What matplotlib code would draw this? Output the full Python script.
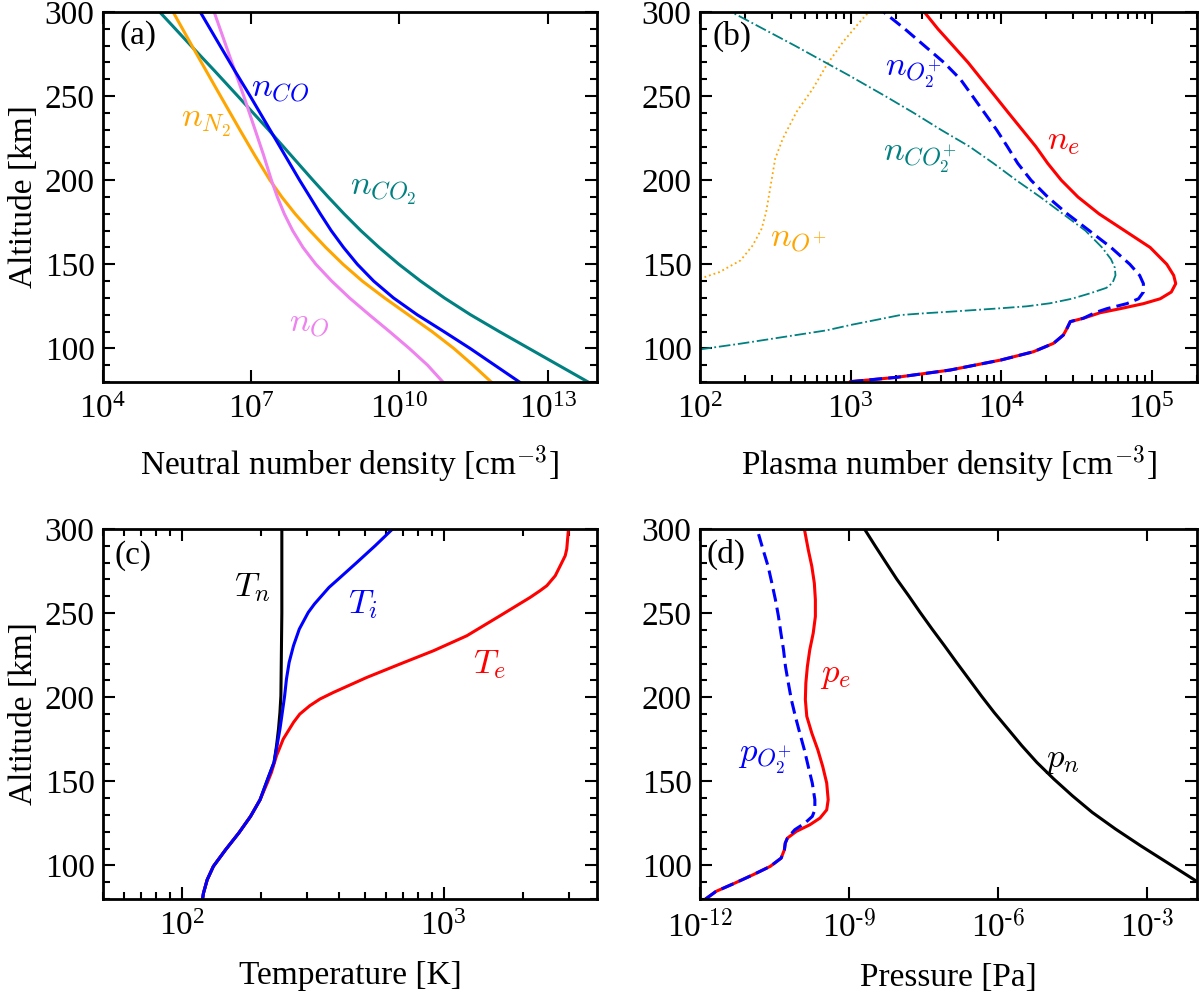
import matplotlib
matplotlib.use("Agg")
import matplotlib.pyplot as plt
import numpy as np
from matplotlib.ticker import MultipleLocator, NullLocator, FuncFormatter

plt.rcParams['font.family'] = 'serif'
plt.rcParams['font.serif'] = ['Liberation Serif', 'DejaVu Serif']
plt.rcParams['mathtext.fontset'] = 'cm'
plt.rcParams['axes.unicode_minus'] = False
plt.rcParams['font.size'] = 24

# ---------------- (a) neutral densities [cm^-3] ----------------
alt_a = [80, 90, 100, 110, 120, 130, 140, 150, 160, 170, 180, 190, 200, 215, 230, 250, 265, 280, 300]
n_co2 = [6.61e13, 1.66e13, 4.17e12, 1.05e12, 2.75e11, 8.13e10, 2.69e10, 9.77e9, 3.89e9, 1.66e9, 7.59e8, 3.63e8, 1.78e8,
         6.31e7, 2.24e7, 5.37e6, 1.82e6, 6.03e5, 1.41e5]
n_co = [2.69e12, 8.51e11, 2.69e11, 7.94e10, 2.29e10, 7.59e9, 3.02e9, 1.41e9, 7.41e8, 4.17e8, 2.51e8, 1.55e8, 9.55e7,
        4.79e7, 2.4e7, 9.55e6, 4.68e6, 2.34e6, 9.33e5]
n_n2 = [7.24e11, 3.09e11, 1.26e11, 4.57e10, 1.51e10, 5.01e9, 1.78e9, 7.24e8, 3.24e8, 1.55e8, 7.76e7, 4.17e7, 2.4e7,
        1.17e7, 5.89e6, 2.4e6, 1.23e6, 6.31e5, 2.63e5]
n_o = [7.59e10, 3.72e10, 1.58e10, 6.31e9, 2.45e9, 9.77e8, 4.27e8, 2.04e8, 1.12e8, 6.92e7, 4.68e7, 3.39e7, 2.57e7,
       1.78e7, 1.2e7, 7.08e6, 4.68e6, 3.09e6, 1.78e6]

# ---------------- (b) plasma densities [cm^-3] ----------------
alt_e = [80.2, 82.8, 87.1, 93.1, 98.0, 103.0, 107.9, 111.9, 115.9, 117.9, 121.2, 123.6, 126.6, 129.5, 133.5, 138.5,
         143.4, 150, 160, 170, 180, 190, 200, 210, 220, 230, 240, 250, 260, 270, 280, 290, 300]
n_e = [1.0e3, 2.03e3, 4.58e3, 1.0e4, 1.64e4, 2.23e4, 2.59e4, 2.74e4, 2.88e4, 3.52e4, 4.55e4, 6.18e4, 8.83e4, 1.14e5,
       1.35e5, 1.445e5, 1.40e5, 1.26e5, 9.77e4, 6.61e4, 4.47e4, 3.24e4, 2.51e4, 2.04e4, 1.7e4, 1.38e4, 1.12e4, 9.12e3,
       7.41e3, 6.03e3, 4.79e3, 3.8e3, 3.09e3]
alt_o2p = [80.2, 82.8, 87.1, 93.1, 98.0, 103.0, 107.9, 111.9, 115.9, 117.9, 121.2, 123.6, 126.6, 129.5, 133.5, 138.5,
           143.4, 150, 160, 170, 180, 190, 200, 210, 220, 230, 240, 250, 260, 270, 280, 290, 300]
n_o2p = [1.0e3, 2.03e3, 4.58e3, 1.0e4, 1.64e4, 2.23e4, 2.59e4, 2.74e4, 2.88e4, 3.52e4, 4.2e4, 5.04e4, 6.84e4, 8.18e4,
         8.81e4, 8.81e4, 8.32e4, 7.16e4, 5.37e4, 3.85e4, 2.75e4, 2.04e4, 1.58e4, 1.29e4, 1.1e4, 9.33e3, 7.76e3, 6.46e3,
         5.37e3, 4.17e3, 3.09e3, 2.29e3, 1.66e3]
alt_co2p = [99.4, 102.8, 106.7, 110.7, 113.9, 116.8, 119.8, 120.8, 121.8, 123.8, 125, 126.8, 129.5, 132.7, 136, 139,
            143.4, 148, 153, 160, 170, 180, 190, 200, 210, 220, 230, 240, 250, 262.3, 280, 300]
n_co2p = [100, 186, 355, 692, 1000, 1456, 2138, 3020, 4571, 9772, 1.48e4, 2.11e4, 2.95e4, 3.89e4, 5.01e4, 5.5e4,
          5.75e4, 5.69e4, 5.37e4, 4.68e4, 3.63e4, 2.57e4, 1.82e4, 1.26e4, 8.91e3, 6.17e3, 3.98e3, 2.63e3, 1.7e3, 977,
          427, 162]
alt_op = [141.4, 145.4, 152.3, 161.2, 171.2, 181, 197, 212.8, 224.7, 240.5, 254.4, 268.3, 282.2, 294, 300]
n_op = [100, 135, 186, 224, 257, 275, 295, 316, 355, 437, 562, 692, 891, 1150, 1320]

# ---------------- (c) temperatures [K] ----------------
alt_ti = [80, 83.5, 91.4, 99.4, 109.3, 119.2, 129.1, 139.0, 152.3, 161.2, 171.1, 181, 190.9, 200.8, 210.8, 220.7,
          230.6, 240.5, 250.4, 255.4, 260.3, 265.3, 270.2, 280.1, 290, 300]
T_i = [120, 121, 125, 132, 147, 165, 183, 199, 214, 225, 231, 237, 242, 247, 251, 257, 267, 281, 304, 321, 342, 365,
       396, 466, 547, 638]
alt_te = [80, 83.5, 91.4, 99.4, 109.3, 119.2, 129.1, 139.0, 149.0, 155.3, 165.2, 175.1, 185.0, 189.9, 194.9, 198.9,
          202.8, 211.7, 219.7, 227.6, 236.5, 248.4, 259.3, 263.3, 266.3, 272.2, 278.1, 284.1, 288.1, 300]
T_e = [120, 121, 125, 132, 147, 165, 183, 199, 212, 220, 230, 244, 267, 282, 308, 337, 379, 508, 681, 914, 1225, 1641,
       2138, 2333, 2477, 2667, 2786, 2911, 2951, 2996]
alt_tn = [80, 83.5, 91.4, 99.4, 109.3, 119.2, 129.1, 139.0, 152.3, 161.2, 171.1, 181, 190.9, 200.8, 250, 300]
T_n = [120, 121, 125, 132, 147, 165, 183, 199, 214, 225, 230, 234, 237, 239, 241, 241]

# ---------------- (d) pressures [Pa] ----------------
alt_pn = [90.8, 101.7, 111.6, 121.6, 131.5, 141.4, 151.3, 161.2, 171.1, 181, 190.9, 200.8, 210.8, 220.7, 230.6, 240.5,
          250.4, 260.3, 270.2, 280.1, 290, 300]
p_n = [9.5e-3, 2.5e-3, 7.4e-4, 2.29e-4, 7.8e-5, 3.1e-5, 1.32e-5, 6.0e-6, 3.0e-6, 1.58e-6, 8.3e-7, 4.57e-7, 2.57e-7,
       1.45e-7, 8.3e-8, 4.68e-8, 2.69e-8, 1.58e-8, 9.1e-9, 5.5e-9, 3.34e-9, 2.04e-9]
alt_pe = [80, 84.5, 89.4, 94.4, 99.4, 104.3, 109.3, 113.2, 116.2, 120.2, 124.1, 128.1, 133, 139, 148.9, 158.8, 168.7,
          178.6, 188.6, 198.5, 208.4, 218.3, 228.2, 238.1, 248, 257.9, 267.8, 277.8, 287.7, 300]
p_e = [1.3e-12, 2.1e-12, 5.0e-12, 1.17e-11, 2.6e-11, 4.3e-11, 5.0e-11, 5.2e-11, 5.75e-11, 8.7e-11, 1.62e-10, 2.6e-10,
       3.55e-10, 3.8e-10, 3.55e-10, 2.95e-10, 2.35e-10, 1.78e-10, 1.41e-10, 1.32e-10, 1.35e-10, 1.45e-10, 1.62e-10,
       1.9e-10, 2.1e-10, 2.1e-10, 2.0e-10, 1.78e-10, 1.51e-10, 1.26e-10]
alt_po2p = [80, 84.5, 89.4, 94.4, 99.4, 104.3, 109.3, 113.2, 116.2, 121.2, 125.1, 129.1, 133, 139, 148.9, 158.8, 168.7,
            178.6, 188.6, 198.5, 208.4, 218.3, 228.2, 238.1, 248, 257.9, 267.8, 277.8, 287.7, 300]
p_o2p = [1.3e-12, 2.1e-12, 5.0e-12, 1.17e-11, 2.6e-11, 4.3e-11, 5.0e-11, 5.2e-11, 5.75e-11, 8.1e-11, 1.29e-10, 1.82e-10,
         2.05e-10, 2.05e-10, 1.82e-10, 1.51e-10, 1.26e-10, 1.02e-10, 8.3e-11, 6.9e-11, 6.0e-11, 5.25e-11, 4.8e-11,
         4.25e-11, 3.8e-11, 3.3e-11, 2.8e-11, 2.35e-11, 1.86e-11, 1.41e-11]

lw = 2.2
dash = (0, (4.2, 2.0))
fig = plt.figure(figsize=(12, 9.94), dpi=100)
ax_a = fig.add_axes([0.0858, 0.6157, 0.4117, 0.3722])
ax_b = fig.add_axes([0.5833, 0.6157, 0.4142, 0.3722])
ax_c = fig.add_axes([0.0858, 0.0956, 0.4117, 0.3722])
ax_d = fig.add_axes([0.5833, 0.0956, 0.4142, 0.3722])


def log_label(x, pos):
    # tick labels in the text font, exponent with a plain hyphen
    e = int(round(np.log10(x)))
    if e < 0:
        return r'$\mathdefault{10^{\text{%d}}}$' % e
    return r'$\mathdefault{10^{%d}}$' % e


for ax in (ax_a, ax_b, ax_c, ax_d):
    ax.set_xscale('log')
    ax.set_ylim(80, 300)
    ax.yaxis.set_major_locator(MultipleLocator(50))
    ax.yaxis.set_minor_locator(MultipleLocator(10))
    ax.tick_params(which='both', direction='in', top=True, right=True, width=1.5)
    ax.tick_params(which='major', length=8.5, pad=6)
    ax.tick_params(which='minor', length=5)
    ax.tick_params(axis='x', which='major', pad=9)
    ax.xaxis.set_major_formatter(FuncFormatter(log_label))
    for s in ax.spines.values():
        s.set_linewidth(2.0)

kw = dict(ha='center', va='center', fontsize=25)

# (a)
ax_a.plot(n_co2, alt_a, color='teal', lw=lw)
ax_a.plot(n_n2, alt_a, color='orange', lw=lw)
ax_a.plot(n_o, alt_a, color='violet', lw=lw)
ax_a.plot(n_co, alt_a, color='blue', lw=lw)
ax_a.set_xlim(1e4, 1e14)
ax_a.set_xticks([1e4, 1e7, 1e10, 1e13])
ax_a.xaxis.set_minor_locator(NullLocator())
ax_a.set_xlabel(r'Neutral number density [cm$^{-3}$]', labelpad=13)
ax_a.set_ylabel('Altitude [km]', labelpad=4)
ax_a.text(0.07, 0.935, '(a)', transform=ax_a.transAxes, ha='center', va='center')
ax_a.text(3.8e7, 254.4, r'$n_{CO}$', color='blue', **kw)
ax_a.text(1.23e6, 234.6, r'$n_{N_2}$', color='orange', **kw)
ax_a.text(4.7e9, 194, r'$n_{CO_2}$', color='teal', **kw)
ax_a.text(1.5e8, 114.7, r'$n_{O}$', color='violet', **kw)

# (b)
ax_b.plot(n_op, alt_op, color='orange', lw=1.3, ls=':')
ax_b.plot(n_co2p, alt_co2p, color='teal', lw=1.3, ls='-.')
ax_b.plot(n_e, alt_e, color='red', lw=lw)
ax_b.plot(n_o2p, alt_o2p, color='blue', lw=lw, ls=dash)
ax_b.set_xlim(1e2, 2e5)
ax_b.set_xlabel(r'Plasma number density [cm$^{-3}$]', labelpad=13)
ax_b.text(0.064, 0.935, '(b)', transform=ax_b.transAxes, ha='center', va='center')
ax_b.text(2.6e3, 263.3, r'$n_{O_2^{+}}$', color='blue', **kw)
ax_b.text(2.6e4, 223.7, r'$n_e$', color='red', **kw)
ax_b.text(2.9e3, 212.8, r'$n_{CO_2^{+}}$', color='teal', **kw)
ax_b.text(450, 165.2, r'$n_{O^{+}}$', color='orange', **kw)

# (c)
ax_c.plot(T_n, alt_tn, color='black', lw=lw)
ax_c.plot(T_e, alt_te, color='red', lw=lw)
ax_c.plot(T_i, alt_ti, color='blue', lw=lw)
ax_c.set_xlim(50, 3850)
ax_c.set_xlabel('Temperature [K]', labelpad=13)
ax_c.set_ylabel('Altitude [km]', labelpad=4)
ax_c.text(0.061, 0.928, '(c)', transform=ax_c.transAxes, ha='center', va='center')
ax_c.text(186, 264.9, r'$T_n$', color='black', **kw)
ax_c.text(489, 255, r'$T_i$', color='blue', **kw)
ax_c.text(1489, 219.3, r'$T_e$', color='red', **kw)

# (d)
ax_d.plot(p_n, alt_pn, color='black', lw=lw)
ax_d.plot(p_e, alt_pe, color='red', lw=lw)
ax_d.plot(p_o2p, alt_po2p, color='blue', lw=lw, ls=dash)
ax_d.set_xlim(1e-12, 1e-2)
ax_d.set_xticks([1e-12, 1e-9, 1e-6, 1e-3])
ax_d.xaxis.set_minor_locator(NullLocator())
ax_d.set_xlabel('Pressure [Pa]', labelpad=13)
ax_d.text(0.052, 0.931, '(d)', transform=ax_d.transAxes, ha='center', va='center')
ax_d.text(2.0e-11, 162.8, r'$p_{O_2^{+}}$', color='blue', **kw)
ax_d.text(5.4e-10, 213.3, r'$p_e$', color='red', **kw)
ax_d.text(1.95e-5, 163.2, r'$p_n$', color='black', **kw)

fig.savefig('out.png', dpi=100)
